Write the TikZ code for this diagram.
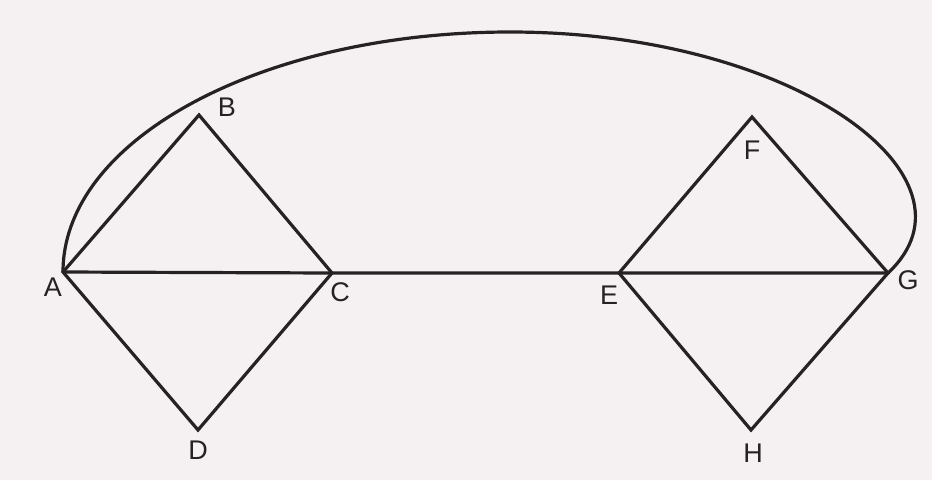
\documentclass[tikz,border=0pt]{standalone}
\usepackage{fontspec}
\setmainfont{Liberation Sans}
\definecolor{paper}{RGB}{245,240,242}
\definecolor{ink}{RGB}{38,33,34}

\begin{document}
\begin{tikzpicture}[x=1pt,y=-1pt,font=\fontsize{27}{32}\selectfont,
  edge/.style={draw=ink,line width=3.2pt,line join=miter},
  vlabel/.style={text=ink,inner sep=0pt}]
 \fill[paper] (0,0) rectangle (932,480);
 \useasboundingbox (0,0) rectangle (932,480);
 % vertices
 \coordinate (A) at (63,272);
 \coordinate (B) at (199,115);
 \coordinate (C) at (332,273);
 \coordinate (D) at (198,430);
 \coordinate (E) at (619,273);
 \coordinate (F) at (752,117);
 \coordinate (G) at (888,273);
 \coordinate (H) at (751,430);
 \coordinate (top) at (510,32);
 % edges
 \draw[edge] (A)--(B)--(C)--(D)--cycle;
 \draw[edge] (A)--(C)--(E)--(G);
 \draw[edge] (E)--(F)--(G)--(H)--cycle;
 \draw[edge] (A) .. controls (63,139) and (263,32) .. (top)
   .. controls (795,32) and (990,178) .. (G);
 % labels
 \node[vlabel] (lA) at (53,287) {A};
 \node[vlabel] (lB) at (227,107) {B};
 \node[vlabel] (lC) at (340,292) {C};
 \node[vlabel] (lD) at (198,450) {D};
 \node[vlabel] (lE) at (609,295) {E};
 \node[vlabel] (lF) at (752,150) {F};
 \node[vlabel] (lG) at (908,280) {G};
 \node[vlabel] (lH) at (753,453) {H};
\end{tikzpicture}
\end{document}
